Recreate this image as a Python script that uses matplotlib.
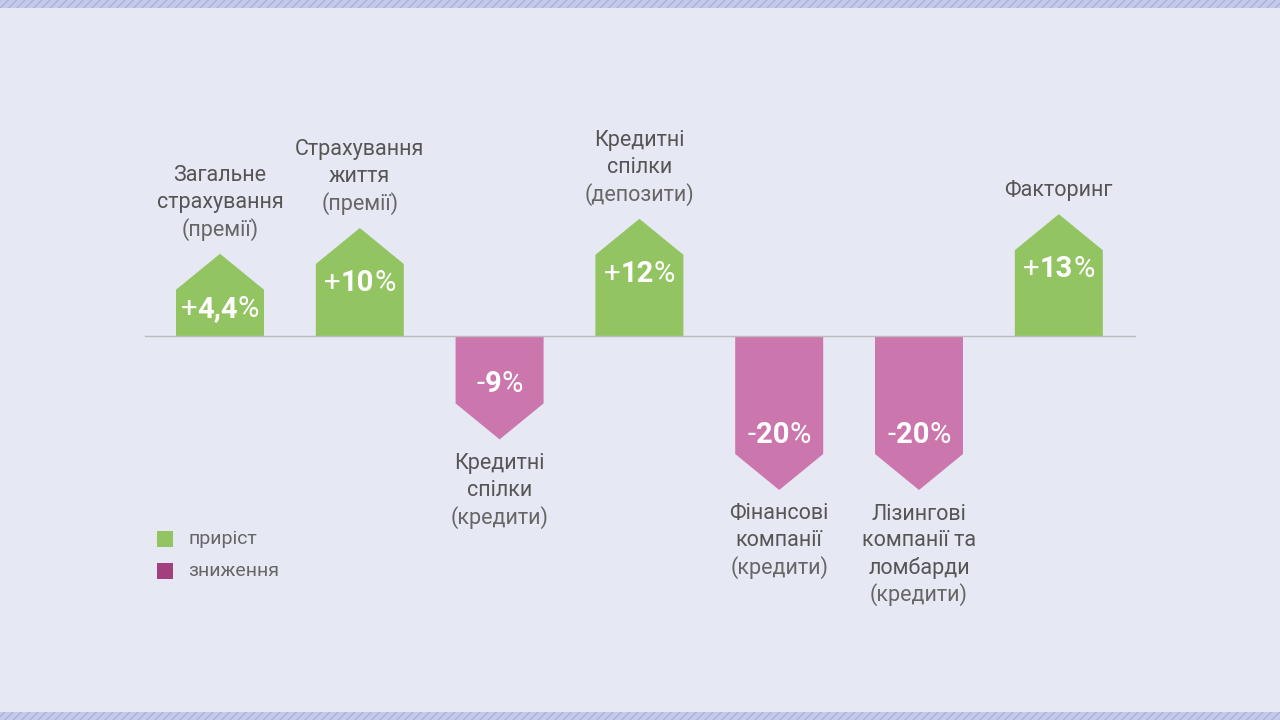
import matplotlib.pyplot as plt
from matplotlib.patches import Polygon, Rectangle

categories = [
    ["Загальне", "страхування", "(премії)"],
    ["Страхування", "життя", "(премії)"],
    ["Кредитні", "спілки", "(кредити)"],
    ["Кредитні", "спілки", "(депозити)"],
    ["Фінансові", "компанії", "(кредити)"],
    ["Лізингові", "компанії та", "ломбарди", "(кредити)"],
    ["Факторинг"],
]
values = [4.4, 10, -9, 12, -20, -20, 13]
value_labels = ["4,4", "10", "9", "12", "20", "20", "13"]
legend_labels = ["приріст", "зниження"]

GREEN = "#93c462"
PINK = "#cc76ae"
PINK_DARK = "#a33f7d"
TEXT = "#555555"
BG = "#e6e8f4"

fig = plt.figure(figsize=(12.8, 7.2), dpi=100)
fig.patch.set_facecolor(BG)
ax = fig.add_axes([0, 0, 1, 1])
ax.set_xlim(0, 1280)
ax.set_ylim(720, 0)
ax.axis("off")

# striped borders
for y0 in (0, 712):
    ax.add_patch(Rectangle((0, y0), 1280, 8, facecolor="#c5cae8",
                           edgecolor="#aab2df", hatch="////", lw=0))

base = 336
x0, step, w, roof = 220, 139.8, 88, 36
ax.plot([145, 1135], [base, base], color="#bbbbbb", lw=1)


def shape_height(v):
    return 62 + 4.6 * abs(v)


fig.canvas.draw()
r = fig.canvas.get_renderer()

for i, (cat, v, lab) in enumerate(zip(categories, values, value_labels)):
    cx = x0 + i * step
    h = shape_height(v)
    s = -1 if v > 0 else 1
    tip = base + s * h
    shoulder = tip - s * roof
    pts = [(cx - w / 2, base), (cx - w / 2, shoulder), (cx, tip),
           (cx + w / 2, shoulder), (cx + w / 2, base)]
    ax.add_patch(Polygon(pts, closed=True,
                         facecolor=GREEN if v > 0 else PINK, lw=0))
    # value label: regular sign, bold number, regular %
    ly = tip - s * 55
    parts = [("+" if v > 0 else "-", "normal"), (lab, "bold"), ("%", "normal")]
    texts = [ax.text(0, ly, p, fontsize=21, fontweight=fw, color="white",
                     family="Roboto", va="center", ha="left")
             for p, fw in parts]
    widths = [t.get_window_extent(r).width for t in texts]
    xs = cx - sum(widths) / 2
    for t, wd in zip(texts, widths):
        t.set_x(xs)
        xs += wd
    # category label
    lh = 27
    if v > 0:
        last = tip - 24
        ys = [last - lh * (len(cat) - 1 - k) for k in range(len(cat))]
    else:
        first = tip + 24
        ys = [first + lh * k for k in range(len(cat))]
    for line, yy in zip(cat, ys):
        paren = line.startswith("(")
        ax.text(cx, yy, line, fontsize=15.5, family="Roboto",
                color="#666666" if paren else TEXT,
                ha="center", va="center")

for k, (lab, col) in enumerate(zip(legend_labels, [GREEN, PINK_DARK])):
    yy = 539 + k * 32
    ax.add_patch(Rectangle((157, yy - 8), 16, 16, facecolor=col, lw=0))
    ax.text(188, yy, lab, fontsize=14, color="#666666", family="Roboto",
            va="center")

fig.savefig("out.png", dpi=100, facecolor=BG)
